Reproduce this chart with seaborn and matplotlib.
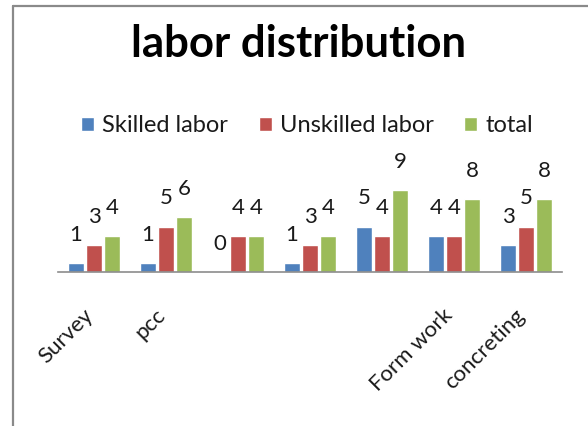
import matplotlib
matplotlib.use("Agg")
import matplotlib.pyplot as plt
import seaborn as sns
import pandas as pd
from matplotlib.lines import Line2D

# ---- data ----
categories = ["Survey", "pcc", "", " ", "  ", "Form work", "concreting"]
skilled = [1, 1, 0, 1, 5, 4, 3]
unskilled = [3, 5, 4, 3, 4, 4, 5]
total = [4, 6, 4, 4, 9, 8, 8]
series_names = ["Skilled labor", "Unskilled labor", "total"]
colors = ["#4F81BD", "#C0504D", "#9BBB59"]

rows = []
for name, vals in zip(series_names, [skilled, unskilled, total]):
    for c, v in zip(categories, vals):
        rows.append({"category": c, "series": name, "value": v})
df = pd.DataFrame(rows)

sns.set_theme(style="white")
plt.rcParams["font.family"] = ["Lato", "DejaVu Sans"]

fig = plt.figure(figsize=(5.88, 4.26), dpi=100)
ax = fig.add_axes([58/588, 154/426, 504/588, 91/426])

sns.barplot(data=df, x="category", y="value", hue="series", order=categories,
            hue_order=series_names, palette=colors, width=0.75, gap=0.15,
            saturation=1, ax=ax, legend=True)

ax.set_ylim(0, 10)
ax.set_xlim(-0.5, len(categories) - 0.5)
ax.set_xlabel("")
ax.set_ylabel("")
ax.set_yticks([])
for s in ["left", "right", "top"]:
    ax.spines[s].set_visible(False)
ax.spines["bottom"].set_color("#8C8C8C")
ax.spines["bottom"].set_linewidth(1.2)

for cont in ax.containers:
    ax.bar_label(cont, padding=13, fontsize=16, color="#1a1a1a", clip_on=False)

ax.tick_params(axis="x", length=0, pad=32)
for lbl in ax.get_xticklabels():
    lbl.set_rotation(45)
    lbl.set_ha("right")
    lbl.set_va("baseline")
    lbl.set_rotation_mode("anchor")
    lbl.set_fontsize(16)
    lbl.set_color("#1a1a1a")

handles, labels = ax.get_legend_handles_labels()
ax.legend_.remove()
fig.legend(handles, labels, loc="center", bbox_to_anchor=(307/588, 1 - 126/426),
           ncol=3, frameon=False, fontsize=17, handlelength=0.55, handleheight=0.55,
           handletextpad=0.35, columnspacing=1.3, labelcolor="#1a1a1a")

fig.text(299/588, 1 - 57/426, "labor distribution", ha="center", va="baseline",
         fontsize=31.5, fontweight="bold", color="black")

# outer frame (left and top edges)
fig.add_artist(Line2D([12.5/588, 12.5/588], [0, 1 - 5.5/426], transform=fig.transFigure,
                      color="#8A8A8A", linewidth=1.6))
fig.add_artist(Line2D([12.5/588, 1], [1 - 5.5/426, 1 - 5.5/426], transform=fig.transFigure,
                      color="#8A8A8A", linewidth=1.6))

fig.savefig("out.png", dpi=100, facecolor="white")
